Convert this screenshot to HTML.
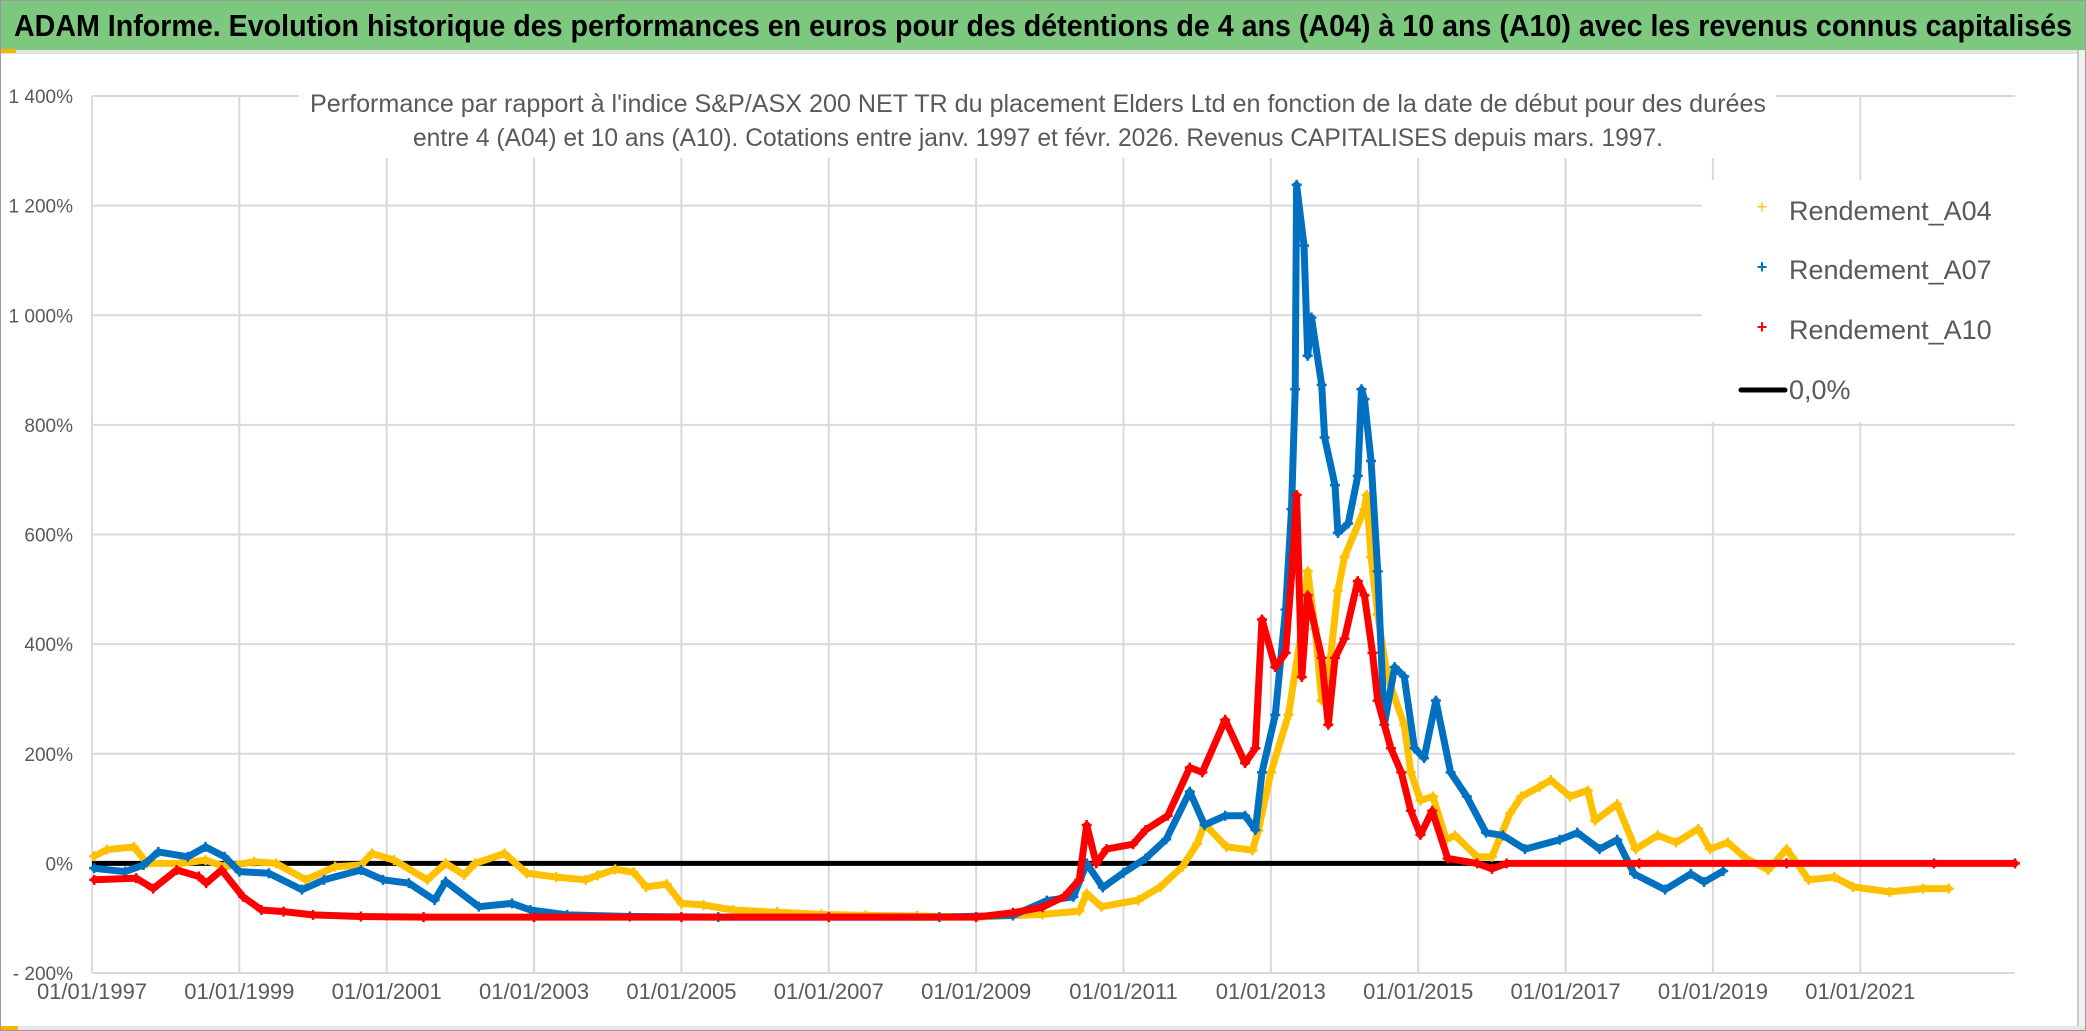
<!DOCTYPE html>
<html><head><meta charset="utf-8"><style>
html,body{margin:0;padding:0;background:#fff;}
svg{display:block;font-family:"Liberation Sans Narrow","Liberation Sans",sans-serif;}
</style></head><body>
<svg id="chart" width="2086" height="1031" viewBox="0 0 2086 1031" xmlns="http://www.w3.org/2000/svg">
<rect x="0" y="0" width="2086" height="1031" fill="#fff"/>
<rect x="0" y="0" width="2086" height="50" fill="#7dc87f"/>
<rect x="0" y="50" width="2086" height="4" fill="#e3e3e3"/>
<rect x="0" y="49" width="16" height="4" fill="#f5b400"/>
<rect x="2078" y="50" width="8" height="981" fill="#f0f0f0"/>
<line x1="2078" y1="50" x2="2078" y2="1031" stroke="#bbb" stroke-width="1.5"/>
<rect x="0" y="1026" width="2086" height="5" fill="#e6e6e6"/>
<rect x="0" y="1026" width="18" height="5" fill="#f5b400"/>
<rect x="0" y="0" width="2086" height="1031" fill="none" stroke="#999" stroke-width="2"/>
<text x="1043" y="36" text-anchor="middle" font-size="31" font-weight="bold" fill="#000" textLength="2058" lengthAdjust="spacingAndGlyphs">ADAM Informe. Evolution historique des performances en euros pour des détentions de 4 ans (A04) à 10 ans (A10) avec les revenus connus capitalisés</text>
<g id="grid"></g>
<g id="yaxis"></g>
<g id="xaxis"></g>
<line id="zero" stroke="#000" stroke-width="5"/>
<g id="series"></g>
<rect x="299" y="80" width="1477" height="78" fill="#fff"/>
<text x="1038" y="112" text-anchor="middle" font-size="25" fill="#595959" textLength="1456" lengthAdjust="spacingAndGlyphs">Performance par rapport à l'indice S&amp;P/ASX 200 NET TR  du placement Elders Ltd en fonction de la date de début pour des durées</text>
<text x="1038" y="146" text-anchor="middle" font-size="25" fill="#595959" textLength="1250" lengthAdjust="spacingAndGlyphs">entre 4 (A04) et 10 ans (A10). Cotations entre janv. 1997 et févr. 2026. Revenus CAPITALISES depuis mars. 1997.</text>
<g>
<rect x="1702" y="180" width="313" height="242" fill="#fff"/>
<g><text x="1762" y="213" text-anchor="middle" font-size="18" fill="#ffc000">+</text><text x="1789" y="220" font-size="27" fill="#595959">Rendement_A04</text></g>
<g><text x="1762" y="273" text-anchor="middle" font-size="18" font-weight="bold" fill="#0070c0">+</text><text x="1789" y="279" font-size="27" fill="#595959">Rendement_A07</text></g>
<g><text x="1762" y="333" text-anchor="middle" font-size="18" font-weight="bold" fill="#ff0000">+</text><text x="1789" y="339" font-size="27" fill="#595959">Rendement_A10</text></g>
<g><line x1="1741" y1="390" x2="1785" y2="390" stroke="#000" stroke-width="5" stroke-linecap="round"/><text x="1789" y="399" font-size="27" fill="#595959">0,0%</text></g>
</g>
</svg>
<script>
const yTicks = [1400,1200,1000,800,600,400,200,0,-200];
const yTickLabels = ["1 400%","1 200%","1 000%","800%","600%","400%","200%","0%","- 200%"];
const xTickYears = [1997,1999,2001,2003,2005,2007,2009,2011,2013,2015,2017,2019,2021];
const xTickLabels = ["01/01/1997","01/01/1999","01/01/2001","01/01/2003","01/01/2005","01/01/2007","01/01/2009","01/01/2011","01/01/2013","01/01/2015","01/01/2017","01/01/2019","01/01/2021"];

const a04Dates = [1997.03,1997.2,1997.57,1997.75,1998.2,1998.54,1998.8,1999.2,1999.5,1999.9,2000.3,2000.65,2000.8,2001.1,2001.55,2001.8,2002.05,2002.2,2002.6,2002.9,2003.3,2003.7,2003.86,2004.1,2004.35,2004.52,2004.8,2005.0,2005.3,2005.7,2006.3,2006.9,2007.5,2008.2,2009.0,2009.9,2010.4,2010.5,2010.7,2011.2,2011.5,2011.8,2012.0,2012.1,2012.4,2012.75,2012.83,2013.0,2013.24,2013.42,2013.5,2013.6,2013.69,2013.78,2013.91,2014.0,2014.27,2014.3,2014.36,2014.45,2014.58,2014.81,2014.9,2015.03,2015.2,2015.38,2015.5,2015.8,2016.0,2016.25,2016.4,2016.65,2016.8,2017.06,2017.3,2017.4,2017.7,2017.95,2018.25,2018.5,2018.8,2018.96,2019.2,2019.45,2019.75,2020.0,2020.3,2020.65,2020.9,2021.4,2021.85,2022.2];
const a04Values = [13,25,30,0,0,6,-6,3,0,-30,-6,-3,18,6,-30,0,-21,0,18,-18,-25,-30,-22,-11,-16,-43,-38,-73,-76,-85,-89,-93,-95,-96,-98,-93,-87,-55,-79,-67,-43,-6,36,72,30,24,60,166,271,428,533,428,297,341,498,559,646,672,559,454,341,253,166,115,122,43,51,12,12,92,122,140,152,122,133,78,108,26,51,38,63,26,38,9,-12,26,-30,-25,-43,-52,-46,-46];

const a07Dates = [1997.03,1997.45,1997.7,1997.9,1998.3,1998.54,1998.8,1999.0,1999.4,1999.85,2000.15,2000.65,2000.95,2001.3,2001.65,2001.8,2002.25,2002.7,2002.95,2003.45,2004.3,2005.5,2007.0,2008.5,2009.5,2009.96,2010.32,2010.5,2010.72,2011.0,2011.3,2011.58,2011.9,2012.1,2012.38,2012.65,2012.79,2012.88,2013.06,2013.2,2013.28,2013.33,2013.35,2013.45,2013.5,2013.55,2013.69,2013.73,2013.87,2013.91,2014.05,2014.18,2014.23,2014.27,2014.36,2014.45,2014.54,2014.68,2014.81,2014.95,2015.08,2015.24,2015.44,2015.66,2015.92,2016.15,2016.45,2016.92,2017.16,2017.46,2017.7,2017.93,2018.35,2018.7,2018.88,2019.14];
const a07Values = [-9,-15,-3,21,12,30,12,-15,-18,-48,-30,-12,-30,-36,-67,-33,-79,-73,-85,-94,-97,-98,-98,-98,-95,-68,-61,0,-44,-17,9,44,131,70,87,87,61,166,271,463,646,865,1238,1127,926,996,873,777,690,603,620,707,865,847,734,533,253,358,341,210,192,297,166,122,56,51,26,43,56,26,43,-19,-48,-19,-34,-14];

const a10Dates = [1997.03,1997.6,1997.83,1998.15,1998.45,1998.55,1998.76,1999.05,1999.3,1999.6,2000.0,2000.65,2001.5,2003.0,2005.0,2007.0,2009.0,2009.5,2009.9,2010.2,2010.4,2010.5,2010.63,2010.77,2011.13,2011.3,2011.6,2011.9,2012.07,2012.38,2012.65,2012.79,2012.88,2013.06,2013.2,2013.3,2013.35,2013.42,2013.5,2013.69,2013.78,2013.87,2014.0,2014.18,2014.27,2014.38,2014.45,2014.63,2014.77,2014.9,2015.03,2015.19,2015.4,2015.8,2016.0,2016.2,2018.0,2020.0,2022.0,2023.1];
const a10Values = [-30,-27,-46,-12,-24,-36,-12,-61,-85,-88,-94,-97,-98,-98,-98,-98,-98,-90,-80,-60,-30,70,0,26,35,61,87,175,166,262,183,210,445,358,384,559,672,340,489,375,253,375,410,515,489,384,297,210,166,96,52,96,9,0,-10,0,0,0,0,0];

const X0=92, X1=2015, Y_TOP=96, Y_BOT=973, XMIN=1997, XMAX=2023.1, YMIN=-200, YMAX=1400;
function xs(v){return X0+(v-XMIN)/(XMAX-XMIN)*(X1-X0);}
function ys(v){return Y_BOT-(v-YMIN)/(YMAX-YMIN)*(Y_BOT-Y_TOP);}
const NS="http://www.w3.org/2000/svg";
function mk(tag,attrs,parent){const e=document.createElementNS(NS,tag);for(const k in attrs)e.setAttribute(k,attrs[k]);parent.appendChild(e);return e;}

const grid=document.getElementById('grid'), yax=document.getElementById('yaxis'), xax=document.getElementById('xaxis');
yTicks.forEach((t,i)=>{
  const l=mk('line',{x1:X0,x2:X1,y1:ys(t),y2:ys(t),stroke:'#d9d9d9','stroke-width':2},grid);
  
  
  const tx=mk('text',{x:73,y:ys(t)+7,'text-anchor':'end','font-size':19,fill:'#595959'},yax);
  tx.textContent=yTickLabels[i];
  
  
});
xTickYears.forEach((t,i)=>{
  const l=mk('line',{x1:xs(t),x2:xs(t),y1:Y_TOP,y2:Y_BOT,stroke:'#d9d9d9','stroke-width':2},grid);
  
  
  const tx=mk('text',{x:xs(t),y:999,'text-anchor':'middle','font-size':22,fill:'#595959'},xax);
  tx.textContent=xTickLabels[i];
  
  
});
const zl=document.getElementById('zero');
zl.setAttribute('x1',X0);zl.setAttribute('x2',X1);zl.setAttribute('y1',ys(0));zl.setAttribute('y2',ys(0));

const seriesG=document.getElementById('series');
function drawSeries(name,dates,vals,color){
  const g=mk('g',{},seriesG);
  
  
  const pts=dates.map((d,i)=>xs(d).toFixed(1)+','+ys(vals[i]).toFixed(1)).join(' ');
  const pl=mk('polyline',{points:pts,fill:'none',stroke:color,'stroke-width':7,'stroke-linejoin':'round','stroke-linecap':'round'},g);
  
  
  dates.forEach((d,i)=>{
    const x=xs(d), y=ys(vals[i]);
    const p=mk('path',{d:`M${x-5},${y}H${x+5}M${x},${y-5}V${y+5}`,stroke:color,'stroke-width':2.5,fill:'none'},g);
    
    
  });
}
drawSeries('series-a04',a04Dates,a04Values,'#ffc000');
drawSeries('series-a07',a07Dates,a07Values,'#0070c0');
drawSeries('series-a10',a10Dates,a10Values,'#ff0000');
</script>
</body></html>
